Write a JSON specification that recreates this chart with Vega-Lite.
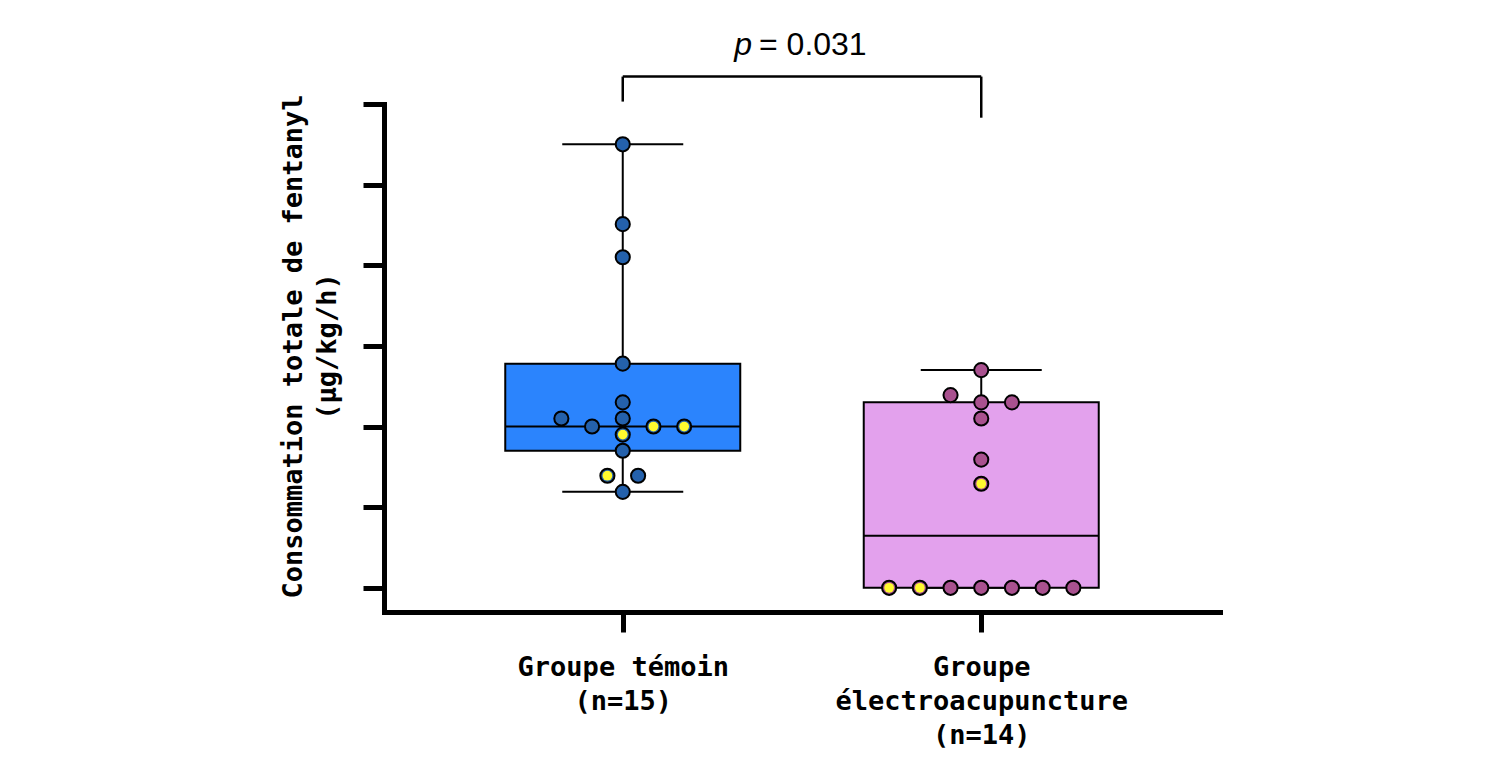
{
  "$schema": "https://vega.github.io/schema/vega-lite/v6.json",
  "width": 836,
  "height": 508,
  "autosize": {"type": "none"},
  "padding": {"left": 384, "top": 104, "right": 289, "bottom": 161},
  "background": "white",
  "config": {
    "view": {"stroke": null},
    "axis": {"grid": false},
    "axisX": {
      "domainColor": "black", "domainWidth": 5, "domainCap": "square",
      "tickColor": "black", "tickWidth": 5, "tickSize": 20,
      "labelFont": "DejaVu Sans Mono", "labelFontSize": 27, "labelFontWeight": "bold", "labelColor": "black",
      "labelLineHeight": 34, "labelPadding": 22, "labelAngle": 0, "labelOverlap": false,
      "labelLimit": 600
    },
    "axisY": {
      "domainColor": "black", "domainWidth": 5, "domainCap": "square",
      "tickColor": "black", "tickWidth": 5, "tickSize": 21,
      "labels": false,
      "titleFont": "DejaVu Sans Mono", "titleFontSize": 27, "titleFontWeight": "bold",
      "titleColor": "black", "titleLineHeight": 34, "titleLimit": 800
    }
  },
  "datasets": {
    "patients": [
      {"id": 1, "groupe": "Groupe témoin", "valeur": 5.50, "mis_en_evidence": false},
      {"id": 2, "groupe": "Groupe témoin", "valeur": 4.51, "mis_en_evidence": false},
      {"id": 3, "groupe": "Groupe témoin", "valeur": 4.10, "mis_en_evidence": false},
      {"id": 4, "groupe": "Groupe témoin", "valeur": 2.78, "mis_en_evidence": false},
      {"id": 5, "groupe": "Groupe témoin", "valeur": 2.30, "mis_en_evidence": false},
      {"id": 6, "groupe": "Groupe témoin", "valeur": 2.10, "mis_en_evidence": false},
      {"id": 7, "groupe": "Groupe témoin", "valeur": 2.00, "mis_en_evidence": false},
      {"id": 8, "groupe": "Groupe témoin", "valeur": 2.10, "mis_en_evidence": false},
      {"id": 9, "groupe": "Groupe témoin", "valeur": 2.00, "mis_en_evidence": true},
      {"id": 10, "groupe": "Groupe témoin", "valeur": 2.00, "mis_en_evidence": true},
      {"id": 11, "groupe": "Groupe témoin", "valeur": 1.90, "mis_en_evidence": true},
      {"id": 12, "groupe": "Groupe témoin", "valeur": 1.70, "mis_en_evidence": false},
      {"id": 13, "groupe": "Groupe témoin", "valeur": 1.39, "mis_en_evidence": true},
      {"id": 14, "groupe": "Groupe témoin", "valeur": 1.39, "mis_en_evidence": false},
      {"id": 15, "groupe": "Groupe témoin", "valeur": 1.19, "mis_en_evidence": false},
      {"id": 16, "groupe": "Groupe électroacupuncture", "valeur": 2.70, "mis_en_evidence": false},
      {"id": 17, "groupe": "Groupe électroacupuncture", "valeur": 2.39, "mis_en_evidence": false},
      {"id": 18, "groupe": "Groupe électroacupuncture", "valeur": 2.30, "mis_en_evidence": false},
      {"id": 19, "groupe": "Groupe électroacupuncture", "valeur": 2.30, "mis_en_evidence": false},
      {"id": 20, "groupe": "Groupe électroacupuncture", "valeur": 2.10, "mis_en_evidence": false},
      {"id": 21, "groupe": "Groupe électroacupuncture", "valeur": 1.59, "mis_en_evidence": false},
      {"id": 22, "groupe": "Groupe électroacupuncture", "valeur": 1.29, "mis_en_evidence": true},
      {"id": 23, "groupe": "Groupe électroacupuncture", "valeur": 0, "mis_en_evidence": true},
      {"id": 24, "groupe": "Groupe électroacupuncture", "valeur": 0, "mis_en_evidence": true},
      {"id": 25, "groupe": "Groupe électroacupuncture", "valeur": 0, "mis_en_evidence": false},
      {"id": 26, "groupe": "Groupe électroacupuncture", "valeur": 0, "mis_en_evidence": false},
      {"id": 27, "groupe": "Groupe électroacupuncture", "valeur": 0, "mis_en_evidence": false},
      {"id": 28, "groupe": "Groupe électroacupuncture", "valeur": 0, "mis_en_evidence": false},
      {"id": 29, "groupe": "Groupe électroacupuncture", "valeur": 0, "mis_en_evidence": false}
    ],
    "boites": [
      {"groupe": "Groupe témoin", "min": 1.19, "q1": 1.70, "mediane": 2.00, "q3": 2.78, "max": 5.50},
      {"groupe": "Groupe électroacupuncture", "min": 0, "q1": 0, "mediane": 0.645, "q3": 2.30, "max": 2.70}
    ],
    "comparaison": [
      {"de": "Groupe témoin", "a": "Groupe électroacupuncture", "niveau": 6.34, "p": 0.031}
    ],
    "branches": [
      {"groupe": "Groupe témoin", "bas": 6.03, "haut": 6.34},
      {"groupe": "Groupe électroacupuncture", "bas": 5.83, "haut": 6.34}
    ]
  },
  "layer": [
    {
      "data": {"name": "boites"},
      "mark": {"type": "rule", "color": "black", "strokeWidth": 2},
      "encoding": {
        "x": {
          "field": "groupe", "type": "nominal",
          "scale": {"type": "point", "padding": 0.666, "domain": ["Groupe témoin", "Groupe électroacupuncture"]},
          "axis": {
            "title": null,
            "labelExpr": "datum.value == 'Groupe témoin' ? ['Groupe témoin', '(n=15)'] : ['Groupe', 'électroacupuncture', '(n=14)']"
          }
        },
        "y": {
          "field": "min", "type": "quantitative",
          "scale": {"domain": [-0.3, 6], "nice": false, "zero": false},
          "axis": {
            "values": [0, 1, 2, 3, 4, 5, 6],
            "title": ["Consommation totale de fentanyl", "(µg/kg/h)"],
            "titleBaseline": "alphabetic", "titleAngle": -90, "titleAlign": "center",
            "titleX": -83, "titleY": 242
          }
        },
        "y2": {"field": "max"}
      }
    },
    {
      "data": {"name": "boites"},
      "mark": {"type": "tick", "orient": "horizontal", "size": 121, "thickness": 2, "color": "black", "opacity": 1},
      "encoding": {
        "x": {"field": "groupe", "type": "nominal"},
        "y": {"field": "min", "type": "quantitative"}
      }
    },
    {
      "data": {"name": "boites"},
      "mark": {"type": "tick", "orient": "horizontal", "size": 121, "thickness": 2, "color": "black", "opacity": 1},
      "encoding": {
        "x": {"field": "groupe", "type": "nominal"},
        "y": {"field": "max", "type": "quantitative"}
      }
    },
    {
      "data": {"name": "boites"},
      "mark": {"type": "bar", "width": 235, "stroke": "black", "strokeWidth": 2, "opacity": 1},
      "encoding": {
        "x": {"field": "groupe", "type": "nominal"},
        "y": {"field": "q1", "type": "quantitative"},
        "y2": {"field": "q3"},
        "fill": {
          "field": "groupe", "type": "nominal", "legend": null,
          "scale": {"domain": ["Groupe témoin", "Groupe électroacupuncture"], "range": ["#2B84FD", "#E3A1ED"]}
        }
      }
    },
    {
      "data": {"name": "boites"},
      "mark": {"type": "tick", "orient": "horizontal", "size": 235, "thickness": 2, "color": "black", "opacity": 1},
      "encoding": {
        "x": {"field": "groupe", "type": "nominal"},
        "y": {"field": "mediane", "type": "quantitative"}
      }
    },
    {
      "data": {"name": "patients"},
      "transform": [
        {"calculate": "floor(datum.valeur * 5)", "as": "rangee"},
        {
          "window": [{"op": "row_number", "as": "k"}, {"op": "count", "as": "n"}],
          "groupby": ["groupe", "rangee"],
          "sort": [{"field": "id", "order": "ascending"}],
          "frame": [null, null]
        },
        {"calculate": "datum.k - (datum.n + 1) / 2", "as": "decalage"}
      ],
      "encoding": {
        "x": {"field": "groupe", "type": "nominal"},
        "xOffset": {"field": "decalage", "type": "quantitative", "scale": {"domain": [-5, 5], "range": [-153.5, 153.5]}},
        "y": {"field": "valeur", "type": "quantitative"}
      },
      "layer": [
        {
          "mark": {"type": "circle", "size": 200, "stroke": "black", "strokeWidth": 2, "opacity": 1},
          "encoding": {
            "fill": {
              "field": "groupe", "type": "nominal", "legend": null,
              "scale": {"domain": ["Groupe témoin", "Groupe électroacupuncture"], "range": ["#2461AC", "#A9518F"]}
            }
          }
        },
        {
          "transform": [{"filter": "datum.mis_en_evidence"}],
          "mark": {"type": "circle", "size": 95, "fill": "#FFFA2E", "strokeWidth": 0, "opacity": 1}
        }
      ]
    },
    {
      "data": {"name": "comparaison"},
      "mark": {"type": "rule", "color": "black", "strokeWidth": 2.5},
      "encoding": {
        "x": {"field": "de", "type": "nominal"},
        "x2": {"field": "a"},
        "y": {"field": "niveau", "type": "quantitative"}
      }
    },
    {
      "data": {"name": "branches"},
      "mark": {"type": "rule", "color": "black", "strokeWidth": 2.5},
      "encoding": {
        "x": {"field": "groupe", "type": "nominal"},
        "y": {"field": "bas", "type": "quantitative"},
        "y2": {"field": "haut"}
      }
    },
    {
      "data": {"name": "comparaison"},
      "mark": {
        "type": "text", "text": "p", "font": "Liberation Sans", "fontStyle": "italic", "fontSize": 32,
        "align": "right", "baseline": "alphabetic", "color": "black",
        "x": {"expr": "width/2"}, "dx": -50, "dy": -21.6
      },
      "encoding": {
        "y": {"field": "niveau", "type": "quantitative"}
      }
    },
    {
      "data": {"name": "comparaison"},
      "transform": [{"calculate": "'= ' + format(datum.p, '.3f')", "as": "etiquette"}],
      "mark": {
        "type": "text", "font": "Liberation Sans", "fontSize": 32,
        "align": "left", "baseline": "alphabetic", "color": "black",
        "x": {"expr": "width/2"}, "dx": -43, "dy": -21.6
      },
      "encoding": {
        "y": {"field": "niveau", "type": "quantitative"},
        "text": {"field": "etiquette", "type": "nominal"}
      }
    }
  ],
  "resolve": {"scale": {"fill": "independent"}}
}
